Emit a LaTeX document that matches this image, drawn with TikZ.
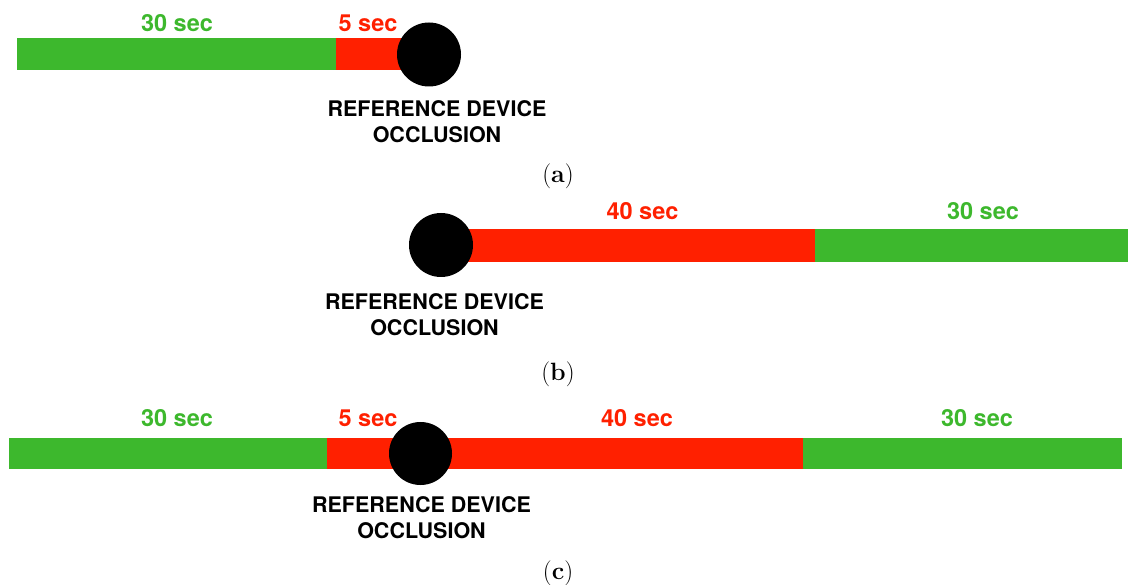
\documentclass[tikz,border=0pt]{standalone}
\usepackage{fontspec}
\setsansfont{TeX Gyre Heros}
\begin{document}
\begin{tikzpicture}[x=1pt,y=-1pt,
  gbar/.style={fill=barGreen,draw=none,inner sep=0pt,minimum height=32pt,anchor=west},
  rbar/.style={fill=barRed,draw=none,inner sep=0pt,minimum height=32pt,anchor=west},
  dot/.style={circle,fill=black,draw=none,inner sep=0pt,minimum size=64pt},
  glab/.style={text=barGreen,font=\sffamily\bfseries\fontsize{23.5}{28}\selectfont,anchor=base,inner sep=0pt},
  rlab/.style={text=barRed,font=\sffamily\bfseries\fontsize{23.5}{28}\selectfont,anchor=base,inner sep=0pt},
  occ/.style={font=\sffamily\bfseries\fontsize{21.5}{26}\selectfont,align=center,anchor=north,inner sep=0pt},
  panelcap/.style={font=\fontsize{25}{28}\selectfont,anchor=base,inner sep=0pt}]
\definecolor{barGreen}{RGB}{61,184,45}
\definecolor{barRed}{RGB}{255,32,0}
\useasboundingbox[fill=white] (0,0) rectangle (1128,585);
% ---- (a)
\node[gbar,minimum width=319pt] (a1) at (17,54) {};
\node[rbar,minimum width=93pt] (a2) at (336,54) {};
\node[dot] (ad) at (429,54.5) {};
\node[glab] (a1t) at (177,32) {30 sec};
\node[rlab] (a2t) at (368,32) {5 sec};
\node[occ] (aocc) at (437,100) {REFERENCE DEVICE\\OCCLUSION};
\node[panelcap] (acap) at (558,183) {(\textbf{a})};
% ---- (b)
\node[rbar,minimum width=374pt,minimum height=33pt] (b1) at (441,245.5) {};
\node[gbar,minimum width=313pt,minimum height=33pt] (b2) at (815,245.5) {};
\node[dot] (bd) at (441,245) {};
\node[rlab] (b1t) at (642.5,220) {40 sec};
\node[glab] (b2t) at (983,220) {30 sec};
\node[occ] (bocc) at (434.5,293) {REFERENCE DEVICE\\OCCLUSION};
\node[panelcap] (bcap) at (558,381) {(\textbf{b})};
% ---- (c)
\node[gbar,minimum width=318pt,minimum height=31pt] (c1) at (9,453.5) {};
\node[rbar,minimum width=476pt,minimum height=31pt] (c2) at (327,453.5) {};
\node[gbar,minimum width=319pt,minimum height=31pt] (c3) at (803,453.5) {};
\node[dot,minimum size=63pt] (cd) at (420.5,453.5) {};
\node[glab] (c1t) at (177,427) {30 sec};
\node[rlab] (c2t) at (368,427) {5 sec};
\node[rlab] (c3t) at (637,427) {40 sec};
\node[glab] (c4t) at (977,427) {30 sec};
\node[occ] (cocc) at (421.5,496) {REFERENCE DEVICE\\OCCLUSION};
\node[panelcap] (ccap) at (558,579) {(\textbf{c})};
\end{tikzpicture}
\end{document}
